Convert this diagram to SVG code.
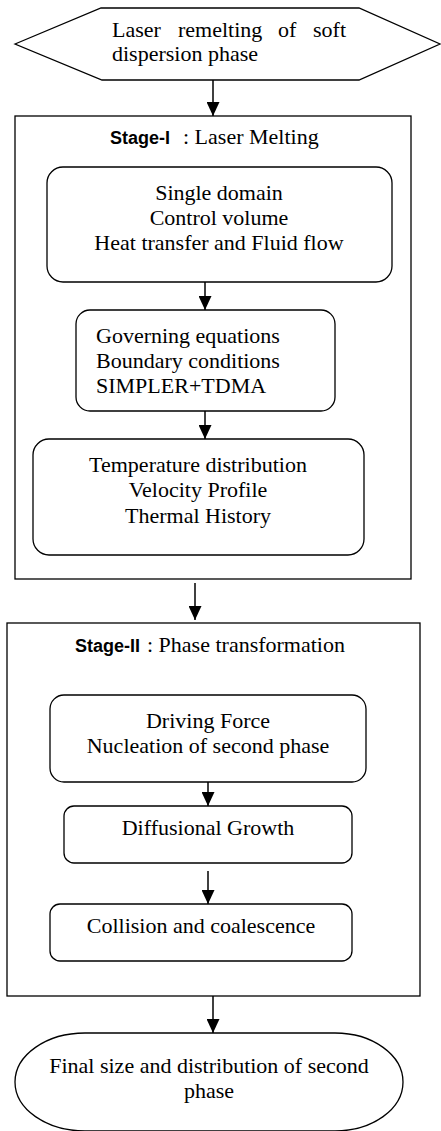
<svg xmlns="http://www.w3.org/2000/svg" width="441" height="1131" viewBox="0 0 441 1131">
<defs>
<marker id="ah" markerWidth="14" markerHeight="13" refX="14" refY="6.5" orient="auto" markerUnits="userSpaceOnUse">
<path d="M0,0 L14,6.5 L0,13 Z" fill="#000"/>
</marker>
<style>
.s{fill:none;stroke:#000;stroke-width:1.3}
.t{font-family:"Liberation Serif","Times New Roman",serif;font-size:22px;fill:#000}
.c{text-anchor:middle}
.b{font-family:"Liberation Sans",Arial,sans-serif;font-size:18px;font-weight:bold;fill:#000}
.e{stroke:#000;stroke-width:1.5;fill:none;marker-end:url(#ah)}
</style>
</defs>
<rect width="441" height="1131" fill="#fff"/>
<g id="start">
<polygon class="s" points="15,44 101,8 359,8 440,44 359,80 102,80"/>
<text class="t" y="37"><tspan x="112">Laser</tspan><tspan x="178">remelting</tspan><tspan x="278">of</tspan><tspan x="313">soft</tspan></text>
<text class="t" x="112" y="61">dispersion phase</text>
</g>
<g id="stage1">
<rect class="s" x="15" y="116" width="396" height="463"/>
<text y="144"><tspan class="b" x="110">Stage-I</tspan><tspan class="t" x="183">: Laser Melting</tspan></text>
</g>
<g id="box1">
<rect class="s" x="47" y="167" width="345" height="115" rx="16"/>
<text class="t c" x="219" y="200">Single domain</text>
<text class="t c" x="219" y="225">Control volume</text>
<text class="t c" x="219" y="250">Heat transfer and Fluid flow</text>
</g>
<g id="box2">
<rect class="s" x="76" y="310" width="259" height="101" rx="14"/>
<text class="t" x="96" y="343">Governing equations</text>
<text class="t" x="96" y="368">Boundary conditions</text>
<text class="t" x="96" y="393">SIMPLER+TDMA</text>
</g>
<g id="box3">
<rect class="s" x="33" y="439" width="331" height="116" rx="16"/>
<text class="t c" x="198" y="472">Temperature distribution</text>
<text class="t c" x="198" y="497">Velocity Profile</text>
<text class="t c" x="198" y="523">Thermal History</text>
</g>
<g id="stage2">
<rect class="s" x="7" y="623" width="413" height="373"/>
<text y="652"><tspan class="b" x="75">Stage-II</tspan><tspan class="t" x="147">: Phase transformation</tspan></text>
</g>
<g id="box4">
<rect class="s" x="50" y="695" width="316" height="87" rx="14"/>
<text class="t c" x="208" y="728">Driving Force</text>
<text class="t c" x="208" y="753">Nucleation of second phase</text>
</g>
<g id="box5">
<rect class="s" x="64" y="806" width="288" height="57" rx="10"/>
<text class="t c" x="208" y="835">Diffusional Growth</text>
</g>
<g id="box6">
<rect class="s" x="50" y="904" width="302" height="57" rx="10"/>
<text class="t c" x="201" y="933">Collision and coalescence</text>
</g>
<g id="end">
<path class="s" d="M85,1033 H335 A68,49 0 0 1 335,1131 H85 A70,49 0 0 1 85,1033 Z"/>
<text class="t c" x="209" y="1073">Final size and distribution of second</text>
<text class="t c" x="209" y="1098">phase</text>
</g>
<g id="connectors">
<line class="e" x1="213" y1="80" x2="213" y2="116"/>
<line class="e" x1="205" y1="282" x2="205" y2="310"/>
<line class="e" x1="205" y1="411" x2="205" y2="439"/>
<line class="e" x1="195" y1="583" x2="195" y2="620"/>
<line class="e" x1="208" y1="782" x2="208" y2="806"/>
<line class="e" x1="208" y1="871" x2="208" y2="904"/>
<line class="e" x1="213" y1="996" x2="213" y2="1033"/>
</g>
</svg>
